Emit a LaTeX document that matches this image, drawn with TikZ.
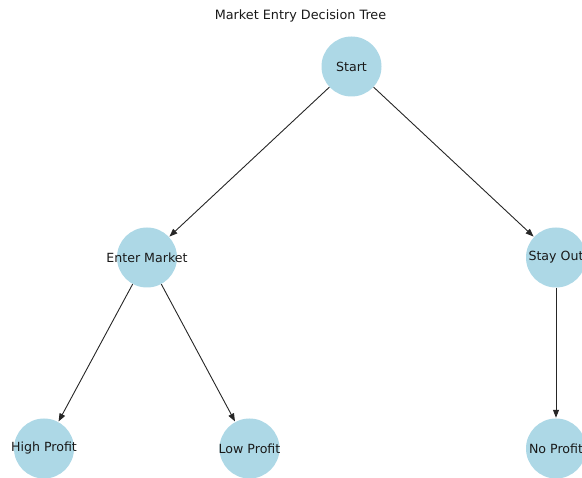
\documentclass[tikz,border=0pt]{standalone}
\usepackage{fontspec}
\setmainfont{DejaVu Sans}
\usetikzlibrary{arrows.meta}
\definecolor{nodeblue}{RGB}{173,216,230}
\tikzset{
  txt/.style={font=\fontsize{12.6pt}{14pt}\selectfont, text=black!90},
  treenode/.style={circle, fill=nodeblue, draw=none, minimum size=60pt, inner sep=0pt, label={[txt]center:#1}},
  conn/.style={draw=black!85, line width=0.9pt, -{Stealth[inset=0pt,length=8pt,width=6pt]}, shorten >=0.5pt}
}
\begin{document}
\begin{tikzpicture}[x=1pt,y=-1pt]
\useasboundingbox (0,0) rectangle (582,478);
\clip (0,0) rectangle (582,478);
\node[txt, font=\fontsize{12.8pt}{14pt}\selectfont] (title) at (300.5,16) {Market Entry Decision Tree};
\node[treenode=Start] (start) at (351.5,66.5) {};
\node[treenode=Enter Market] (enter) at (147,257.5) {};
\node[treenode=Stay Out] (stay) at (556,257.5) {};
\node[treenode=High Profit] (high) at (44,448.5) {};
\node[treenode=Low Profit] (low) at (249.5,448.5) {};
\node[treenode=No Profit] (none) at (556,448.5) {};
\draw[conn] (start) -- (enter);
\draw[conn] (start) -- (stay);
\draw[conn] (enter) -- (high);
\draw[conn] (enter) -- (low);
\draw[conn] (stay) -- (none);
\end{tikzpicture}
\end{document}
